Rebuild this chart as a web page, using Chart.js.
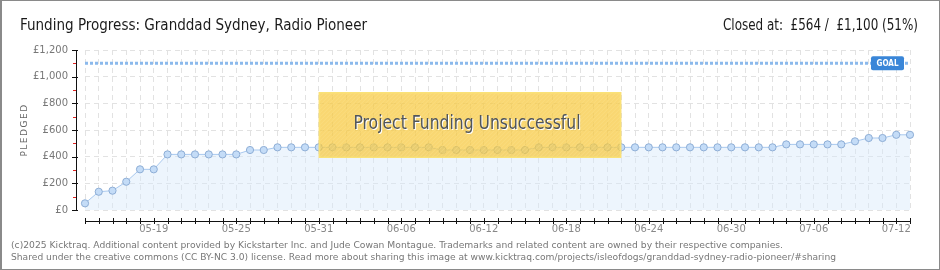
<!DOCTYPE html>
<html>
<head>
<meta charset="utf-8">
<script src="https://cdn.jsdelivr.net/npm/chart.js@4.4.0/dist/chart.umd.min.js"></script>
<style>
  html, body { margin: 0; padding: 0; background: #fff; }
  #wrap { width: 940px; height: 270px; }
</style>
</head>
<body>
<div id="wrap"><canvas id="chart" width="940" height="270"></canvas></div>
<script>
const dates = [
  '05-14','05-15','05-16','05-17','05-18','05-19','05-20','05-21','05-22','05-23',
  '05-24','05-25','05-26','05-27','05-28','05-29','05-30','05-31','06-01','06-02',
  '06-03','06-04','06-05','06-06','06-07','06-08','06-09','06-10','06-11','06-12',
  '06-13','06-14','06-15','06-16','06-17','06-18','06-19','06-20','06-21','06-22',
  '06-23','06-24','06-25','06-26','06-27','06-28','06-29','06-30','07-01','07-02',
  '07-03','07-04','07-05','07-06','07-07','07-08','07-09','07-10','07-11','07-12',
  '07-13'
];
const pledged = [
  50, 137, 145, 212, 305, 305, 417, 417, 417, 417,
  417, 417, 450, 450, 470, 470, 470, 470, 470, 470,
  470, 470, 470, 470, 470, 470, 450, 450, 450, 450,
  450, 450, 450, 470, 470, 470, 470, 470, 470, 470,
  470, 470, 470, 470, 470, 470, 470, 470, 470, 470,
  470, 492, 492, 492, 492, 492, 515, 540, 540, 564,
  564
];
const goal = 1100;
const tickDates = ['05-19','05-25','05-31','06-06','06-12','06-18','06-24','06-30','07-06','07-12'];
const boxDates = ['05-31', '06-22'];
const boxValues = [885, 390];

const titleText = 'Funding Progress: Granddad Sydney, Radio Pioneer';
const closedText = 'Closed at:  £564 /  £1,100 (51%)';
const footer1 = '(c)2025 Kicktraq. Additional content provided by Kickstarter Inc. and Jude Cowan Montague. Trademarks and related content are owned by their respective companies.';
const footer2 = 'Shared under the creative commons (CC BY-NC 3.0) license. Read more about sharing this image at www.kicktraq.com/projects/isleofdogs/granddad-sydney-radio-pioneer/#sharing';

const narrow = '"Liberation Sans Narrow", "DejaVu Sans Condensed", sans-serif';

// draw text squeezed/stretched to a given width
function fitText(ctx, text, x, y, width, align) {
  const w = ctx.measureText(text).width;
  const s = width / w;
  ctx.save();
  ctx.translate(x, y);
  ctx.scale(s, 1);
  ctx.textAlign = 'left';
  const ox = align === 'right' ? -w : (align === 'center' ? -w / 2 : 0);
  ctx.fillText(text, ox, 0);
  ctx.restore();
}

const decor = {
  id: 'decor',
  beforeDraw(chart) {
    const ctx = chart.ctx;
    ctx.save();
    ctx.fillStyle = '#fff';
    ctx.fillRect(0, 0, chart.width, chart.height);
    ctx.restore();
  },
  afterDatasetsDraw(chart) {
    const ctx = chart.ctx;
    const x = chart.scales.x, y = chart.scales.y;
    const area = chart.chartArea;

    // axes drawn a little away from the plot
    ctx.save();
    const ax = area.left - 9;
    ctx.strokeStyle = '#111';
    ctx.lineWidth = 1;
    ctx.beginPath();
    ctx.moveTo(ax + 0.5, area.top);
    ctx.lineTo(ax + 0.5, area.bottom);
    for (let v = 0; v <= 1200; v += 200) {
      const py = Math.round(y.getPixelForValue(v)) + 0.5;
      ctx.moveTo(ax - 4, py);
      ctx.lineTo(ax + 2, py);
    }
    ctx.stroke();
    ctx.strokeStyle = '#e02020';
    ctx.beginPath();
    for (let v = 100; v < 1200; v += 200) {
      const py = Math.round(y.getPixelForValue(v)) + 0.5;
      ctx.moveTo(ax - 3, py);
      ctx.lineTo(ax, py);
    }
    ctx.stroke();

    const ay = area.bottom + 11;
    ctx.strokeStyle = '#111';
    ctx.beginPath();
    ctx.moveTo(area.left, ay + 0.5);
    ctx.lineTo(area.right, ay + 0.5);
    dates.forEach((d, i) => {
      const px = Math.round(x.getPixelForValue(i)) + 0.5;
      ctx.moveTo(px, ay - 3);
      ctx.lineTo(px, ay + 3);
    });
    ctx.stroke();
    ctx.restore();

    // unsuccessful box
    const bx1 = x.getPixelForValue(dates.indexOf(boxDates[0]));
    const bx2 = x.getPixelForValue(dates.indexOf(boxDates[1]));
    const by1 = y.getPixelForValue(boxValues[0]);
    const by2 = y.getPixelForValue(boxValues[1]);
    ctx.save();
    ctx.fillStyle = 'rgba(246, 200, 60, 0.72)';
    ctx.fillRect(bx1, by1, bx2 - bx1, by2 - by1);
    ctx.beginPath();
    ctx.rect(bx1, by1, bx2 - bx1, by2 - by1);
    ctx.clip();
    ctx.strokeStyle = 'rgba(255, 235, 150, 0.35)';
    ctx.lineWidth = 1;
    ctx.beginPath();
    for (let s = bx1 - 100; s < bx2 + 100; s += 4) {
      ctx.moveTo(s, by2);
      ctx.lineTo(s + (by2 - by1), by1);
    }
    ctx.stroke();
    ctx.restore();
    ctx.save();
    ctx.strokeStyle = 'rgba(250, 226, 120, 0.9)';
    ctx.lineWidth = 1.5;
    ctx.strokeRect(bx1 + 0.75, by1 + 0.75, bx2 - bx1 - 1.5, by2 - by1 - 1.5);
    ctx.font = '20px ' + narrow;
    ctx.textBaseline = 'middle';
    const cx = (bx1 + bx2) / 2 - 3;
    const cy = (by1 + by2) / 2 - 1;
    ctx.fillStyle = '#fff';
    fitText(ctx, 'Project Funding Unsuccessful', cx + 1, cy + 1, 227, 'center');
    ctx.fillStyle = '#50555c';
    fitText(ctx, 'Project Funding Unsuccessful', cx, cy, 227, 'center');
    ctx.restore();

    // goal tag
    const gy = y.getPixelForValue(goal);
    const gw = 33, gh = 14;
    const gx = area.right - 6 - gw;
    ctx.save();
    ctx.fillStyle = '#3a86d8';
    ctx.beginPath();
    ctx.roundRect(gx, gy - gh / 2, gw, gh, 2);
    ctx.fill();
    ctx.fillStyle = '#fff';
    ctx.font = 'bold 9px "DejaVu Sans", sans-serif';
    ctx.textBaseline = 'middle';
    fitText(ctx, 'GOAL', gx + gw / 2, gy, 22, 'center');
    ctx.restore();
  },
  afterDraw(chart) {
    const ctx = chart.ctx;
    ctx.save();
    ctx.strokeStyle = '#8a8a8a';
    ctx.lineWidth = 1;
    ctx.strokeRect(0.5, 0.5, chart.width - 1, chart.height - 1);
    ctx.fillStyle = '#8a8a8a';
    ctx.fillRect(0, 0, 2, chart.height);

    ctx.fillStyle = '#1a1a1a';
    ctx.font = '16px ' + narrow;
    ctx.textBaseline = 'alphabetic';
    fitText(ctx, titleText, 20, 30, 347, 'left');
    fitText(ctx, closedText, 918, 30, 195, 'right');

    ctx.fillStyle = '#777';
    ctx.font = '9px "DejaVu Sans", sans-serif';
    fitText(ctx, footer1, 11, 248, 772, 'left');
    fitText(ctx, footer2, 11, 260, 825, 'left');

    // y axis title
    ctx.translate(25, 130);
    ctx.rotate(-Math.PI / 2);
    ctx.fillStyle = '#666';
    ctx.font = '9px "DejaVu Sans", sans-serif';
    ctx.letterSpacing = '1.5px';
    ctx.textAlign = 'center';
    ctx.textBaseline = 'middle';
    ctx.fillText('PLEDGED', 0, 0);
    ctx.restore();
  }
};

new Chart(document.getElementById('chart'), {
  type: 'line',
  data: {
    labels: dates,
    datasets: [
      {
        label: 'Pledged',
        data: pledged,
        borderColor: '#a9c9ef',
        borderWidth: 1,
        backgroundColor: 'rgba(214, 232, 251, 0.45)',
        fill: 'origin',
        tension: 0,
        pointRadius: 3.6,
        pointBackgroundColor: '#c4dcf7',
        pointBorderColor: '#8eaed6',
        pointBorderWidth: 1
      },
      {
        label: 'Goal',
        data: dates.map(() => goal),
        borderColor: '#8bb9ec',
        borderWidth: 3,
        borderDash: [3, 2],
        pointRadius: 0,
        fill: false
      }
    ]
  },
  options: {
    responsive: false,
    animation: false,
    devicePixelRatio: 1,
    layout: { padding: { left: 30, right: 30, top: 50, bottom: 35 } },
    plugins: {
      legend: { display: false },
      tooltip: { enabled: false }
    },
    scales: {
      x: {
        offset: false,
        grid: { color: '#e2e2e2', drawTicks: false },
        border: { display: false, dash: [5, 4] },
        ticks: {
          autoSkip: false,
          maxRotation: 0,
          padding: 13,
          color: '#888',
          font: { family: '"DejaVu Sans", sans-serif', size: 10 },
          callback: (v, i) => tickDates.includes(dates[i]) ? dates[i] : ''
        },
        afterFit: s => { s.height = 25; }
      },
      y: {
        min: 0,
        max: 1200,
        grid: { color: '#e2e2e2', drawTicks: false },
        border: { display: false, dash: [5, 4] },
        ticks: {
          stepSize: 200,
          padding: 17,
          color: '#777',
          font: { family: '"DejaVu Sans", sans-serif', size: 10 },
          callback: v => '£' + v.toLocaleString('en-GB')
        },
        afterFit: s => { s.width = 55; }
      }
    }
  },
  plugins: [decor]
});
</script>
</body>
</html>
